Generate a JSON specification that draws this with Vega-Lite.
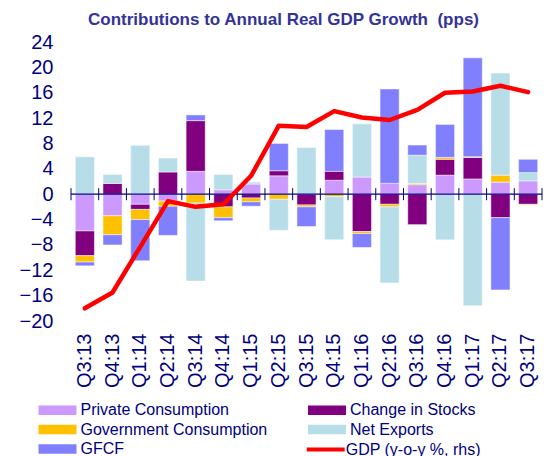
{
  "$schema": "https://vega.github.io/schema/vega-lite/v6.json",
  "width": 471,
  "height": 279,
  "autosize": {"type": "none"},
  "padding": {"left": 71, "top": 42, "right": 16, "bottom": 135},
  "background": "white",
  "config": {
    "view": {"stroke": null},
    "font": "Liberation Sans",
    "axis": {"grid": false, "labelFont": "Liberation Sans"},
    "legend": {"labelFont": "Liberation Sans"}
  },
  "title": {
    "text": "Contributions to Annual Real GDP Growth \u00a0(pps)",
    "fontSize": 17,
    "fontWeight": "bold",
    "color": "#333399",
    "font": "Liberation Sans",
    "anchor": "middle",
    "dx": -23,
    "offset": 3
  },
  "datasets": {
    "contrib": [
      {"quarter": "Q3:13", "component": "Private Consumption", "value": -5.8},
      {"quarter": "Q3:13", "component": "Change in Stocks", "value": -3.9},
      {"quarter": "Q3:13", "component": "Government Consumption", "value": -1.0},
      {"quarter": "Q3:13", "component": "Net Exports", "value": 5.9},
      {"quarter": "Q3:13", "component": "GFCF", "value": -0.6},
      {"quarter": "Q4:13", "component": "Private Consumption", "value": -3.4},
      {"quarter": "Q4:13", "component": "Change in Stocks", "value": 1.7},
      {"quarter": "Q4:13", "component": "Government Consumption", "value": -3.0},
      {"quarter": "Q4:13", "component": "Net Exports", "value": 1.4},
      {"quarter": "Q4:13", "component": "GFCF", "value": -1.6},
      {"quarter": "Q1:14", "component": "Private Consumption", "value": -1.6},
      {"quarter": "Q1:14", "component": "Change in Stocks", "value": -0.8},
      {"quarter": "Q1:14", "component": "Government Consumption", "value": -1.6},
      {"quarter": "Q1:14", "component": "Net Exports", "value": 7.7},
      {"quarter": "Q1:14", "component": "GFCF", "value": -6.5},
      {"quarter": "Q2:14", "component": "Private Consumption", "value": -1.1},
      {"quarter": "Q2:14", "component": "Change in Stocks", "value": 3.5},
      {"quarter": "Q2:14", "component": "Government Consumption", "value": -0.8},
      {"quarter": "Q2:14", "component": "Net Exports", "value": 2.2},
      {"quarter": "Q2:14", "component": "GFCF", "value": -4.6},
      {"quarter": "Q3:14", "component": "Private Consumption", "value": 3.6},
      {"quarter": "Q3:14", "component": "Change in Stocks", "value": 8.0},
      {"quarter": "Q3:14", "component": "Government Consumption", "value": -1.4},
      {"quarter": "Q3:14", "component": "Net Exports", "value": -12.3},
      {"quarter": "Q3:14", "component": "GFCF", "value": 0.9},
      {"quarter": "Q4:14", "component": "Private Consumption", "value": 0.7},
      {"quarter": "Q4:14", "component": "Change in Stocks", "value": -2.0},
      {"quarter": "Q4:14", "component": "Government Consumption", "value": -1.7},
      {"quarter": "Q4:14", "component": "Net Exports", "value": 2.4},
      {"quarter": "Q4:14", "component": "GFCF", "value": -0.5},
      {"quarter": "Q1:15", "component": "Private Consumption", "value": 1.6},
      {"quarter": "Q1:15", "component": "Change in Stocks", "value": -0.6},
      {"quarter": "Q1:15", "component": "Government Consumption", "value": -0.6},
      {"quarter": "Q1:15", "component": "Net Exports", "value": 0.3},
      {"quarter": "Q1:15", "component": "GFCF", "value": -0.7},
      {"quarter": "Q2:15", "component": "Private Consumption", "value": 2.9},
      {"quarter": "Q2:15", "component": "Change in Stocks", "value": 0.8},
      {"quarter": "Q2:15", "component": "Government Consumption", "value": -0.8},
      {"quarter": "Q2:15", "component": "Net Exports", "value": -4.9},
      {"quarter": "Q2:15", "component": "GFCF", "value": 4.3},
      {"quarter": "Q3:15", "component": "Private Consumption", "value": 0.0},
      {"quarter": "Q3:15", "component": "Change in Stocks", "value": -1.7},
      {"quarter": "Q3:15", "component": "Government Consumption", "value": -0.3},
      {"quarter": "Q3:15", "component": "Net Exports", "value": 7.35},
      {"quarter": "Q3:15", "component": "GFCF", "value": -3.1},
      {"quarter": "Q4:15", "component": "Private Consumption", "value": 2.2},
      {"quarter": "Q4:15", "component": "Change in Stocks", "value": 1.4},
      {"quarter": "Q4:15", "component": "Government Consumption", "value": -0.4},
      {"quarter": "Q4:15", "component": "Net Exports", "value": -6.8},
      {"quarter": "Q4:15", "component": "GFCF", "value": 6.6},
      {"quarter": "Q1:16", "component": "Private Consumption", "value": 2.7},
      {"quarter": "Q1:16", "component": "Change in Stocks", "value": -5.9},
      {"quarter": "Q1:16", "component": "Government Consumption", "value": -0.3},
      {"quarter": "Q1:16", "component": "Net Exports", "value": 8.4},
      {"quarter": "Q1:16", "component": "GFCF", "value": -2.2},
      {"quarter": "Q2:16", "component": "Private Consumption", "value": 1.7},
      {"quarter": "Q2:16", "component": "Change in Stocks", "value": -1.6},
      {"quarter": "Q2:16", "component": "Government Consumption", "value": -0.4},
      {"quarter": "Q2:16", "component": "Net Exports", "value": -12.0},
      {"quarter": "Q2:16", "component": "GFCF", "value": 14.9},
      {"quarter": "Q3:16", "component": "Private Consumption", "value": 1.5},
      {"quarter": "Q3:16", "component": "Change in Stocks", "value": -4.8},
      {"quarter": "Q3:16", "component": "Government Consumption", "value": 0.2},
      {"quarter": "Q3:16", "component": "Net Exports", "value": 4.45},
      {"quarter": "Q3:16", "component": "GFCF", "value": 1.6},
      {"quarter": "Q4:16", "component": "Private Consumption", "value": 3.0},
      {"quarter": "Q4:16", "component": "Change in Stocks", "value": 2.5},
      {"quarter": "Q4:16", "component": "Government Consumption", "value": 0.3},
      {"quarter": "Q4:16", "component": "Net Exports", "value": -7.2},
      {"quarter": "Q4:16", "component": "GFCF", "value": 5.2},
      {"quarter": "Q1:17", "component": "Private Consumption", "value": 2.4},
      {"quarter": "Q1:17", "component": "Change in Stocks", "value": 3.4},
      {"quarter": "Q1:17", "component": "Government Consumption", "value": 0.1},
      {"quarter": "Q1:17", "component": "Net Exports", "value": -17.6},
      {"quarter": "Q1:17", "component": "GFCF", "value": 15.6},
      {"quarter": "Q2:17", "component": "Private Consumption", "value": 1.9},
      {"quarter": "Q2:17", "component": "Change in Stocks", "value": -3.7},
      {"quarter": "Q2:17", "component": "Government Consumption", "value": 1.1},
      {"quarter": "Q2:17", "component": "Net Exports", "value": 16.1},
      {"quarter": "Q2:17", "component": "GFCF", "value": -11.4},
      {"quarter": "Q3:17", "component": "Private Consumption", "value": 2.1},
      {"quarter": "Q3:17", "component": "Change in Stocks", "value": -1.6},
      {"quarter": "Q3:17", "component": "Government Consumption", "value": -0.1},
      {"quarter": "Q3:17", "component": "Net Exports", "value": 1.3},
      {"quarter": "Q3:17", "component": "GFCF", "value": 2.1}
    ],
    "gdp": [
      {"quarter": "Q3:13", "gdp": -18.0},
      {"quarter": "Q4:13", "gdp": -15.5},
      {"quarter": "Q1:14", "gdp": -8.3},
      {"quarter": "Q2:14", "gdp": -1.1},
      {"quarter": "Q3:14", "gdp": -2.0},
      {"quarter": "Q4:14", "gdp": -1.6},
      {"quarter": "Q1:15", "gdp": 2.9},
      {"quarter": "Q2:15", "gdp": 10.8},
      {"quarter": "Q3:15", "gdp": 10.6},
      {"quarter": "Q4:15", "gdp": 13.1},
      {"quarter": "Q1:16", "gdp": 12.1},
      {"quarter": "Q2:16", "gdp": 11.7},
      {"quarter": "Q3:16", "gdp": 13.3},
      {"quarter": "Q4:16", "gdp": 16.0},
      {"quarter": "Q1:17", "gdp": 16.2},
      {"quarter": "Q2:17", "gdp": 17.1},
      {"quarter": "Q3:17", "gdp": 16.1}
    ]
  },
  "layer": [
    {
      "data": {"name": "contrib"},
      "transform": [
        {"calculate": "indexof(['Private Consumption','Change in Stocks','Government Consumption','Net Exports','GFCF'], datum.component)", "as": "stackorder"}
      ],
      "mark": {"type": "bar", "width": {"band": 0.69}, "stroke": "white", "strokeWidth": 0.8, "strokeOpacity": 0.6},
      "encoding": {
        "x": {
          "field": "quarter", "type": "nominal", "sort": null,
          "scale": {"paddingInner": 0, "paddingOuter": 0},
          "axis": {"orient": "bottom", "title": null, "labelAngle": -90, "labelFontSize": 20, "labelColor": "#000080", "labelPadding": 12, "ticks": false, "domain": false}
        },
        "y": {
          "field": "value", "type": "quantitative", "stack": "zero", "title": null,
          "scale": {"domain": [-20, 24], "nice": false, "zero": false},
          "axis": {"orient": "left", "title": null, "values": [-20, -16, -12, -8, -4, 0, 4, 8, 12, 16, 20, 24], "labelOverlap": false, "labelFontSize": 20, "labelColor": "#000080", "ticks": false, "tickSize": 0, "domain": false, "labelPadding": 18, "grid": false}
        },
        "order": {"field": "stackorder", "type": "quantitative", "sort": "ascending"},
        "color": {
          "field": "component", "type": "nominal",
          "scale": {
            "domain": ["Private Consumption", "Change in Stocks", "Government Consumption", "Net Exports", "GFCF"],
            "range": ["#CC99FF", "#800080", "#FFC000", "#B7DEE8", "#8080FF"]
          },
          "legend": {
            "orient": "none", "legendX": -23, "legendY": 358.5, "columns": 2, "direction": "horizontal", "title": null,
            "symbolType": "M-2,-0.5H2V0.5H-2Z", "symbolSize": 361,
            "labelFontSize": 16, "labelColor": "#000080", "labelOffset": 13.5, "labelLimit": 400,
            "columnPadding": 39.5, "rowPadding": 1.5, "symbolStrokeWidth": 0
          }
        }
      }
    },
    {
      "data": {"values": [{}]},
      "mark": {"type": "rule", "color": "#000080", "strokeWidth": 1.2},
      "encoding": {"y": {"datum": 0, "axis": null}}
    },
    {
      "data": {"name": "gdp"},
      "mark": {"type": "rule", "color": "#000080", "strokeWidth": 1},
      "encoding": {
        "x": {"field": "quarter", "type": "nominal", "sort": null, "bandPosition": 0, "title": null},
        "y": {"datum": -0.95, "axis": null},
        "y2": {"datum": 0.95}
      }
    },
    {
      "data": {"name": "gdp"},
      "transform": [{"filter": "datum.quarter === 'Q3:17'"}],
      "mark": {"type": "rule", "color": "#000080", "strokeWidth": 1},
      "encoding": {
        "x": {"field": "quarter", "type": "nominal", "sort": null, "bandPosition": 1, "title": null},
        "y": {"datum": -0.95, "axis": null},
        "y2": {"datum": 0.95}
      }
    },
    {
      "data": {"name": "gdp"},
      "mark": {"type": "line", "strokeWidth": 4.5, "strokeJoin": "round", "strokeCap": "round"},
      "encoding": {
        "x": {"field": "quarter", "type": "nominal", "sort": null, "title": null},
        "y": {"field": "gdp", "type": "quantitative", "axis": null},
        "color": {
          "datum": "GDP (y-o-y %, rhs)",
          "scale": {"domain": ["GDP (y-o-y %, rhs)"], "range": ["#FF0000"]},
          "legend": {
            "orient": "none", "legendX": 243.2, "legendY": 396, "title": null,
            "symbolType": "M-2,0H2", "symbolSize": 361, "symbolStrokeWidth": 4,
            "labelFontSize": 16, "labelColor": "#000080", "labelOffset": 8.5, "labelLimit": 400
          }
        }
      }
    }
  ],
  "resolve": {"scale": {"color": "independent"}, "axis": {"y": "independent"}}
}
